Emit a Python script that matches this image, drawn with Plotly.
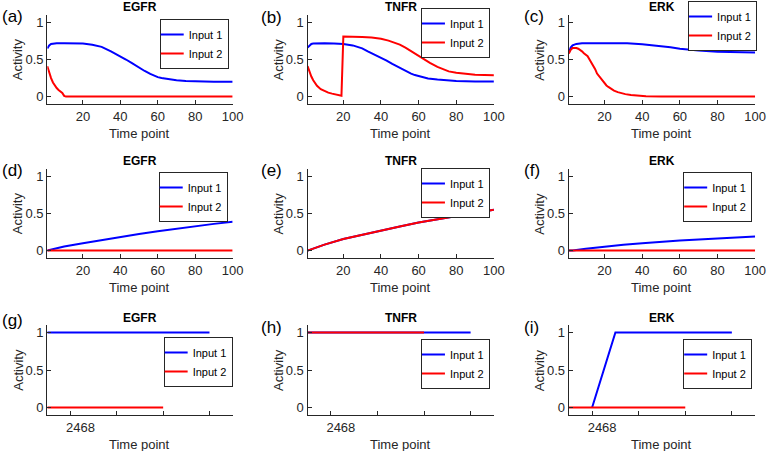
import plotly.graph_objects as go

# ---------------- data ----------------
panel_letters = ["(a)", "(b)", "(c)", "(d)", "(e)", "(f)", "(g)", "(h)", "(i)"]
panel_titles = ["EGFR", "TNFR", "ERK", "EGFR", "TNFR", "ERK", "EGFR", "TNFR", "ERK"]
series_names = ["Input 1", "Input 2"]

# (a) EGFR
a_t1 = [1, 2, 3, 4, 6, 10, 15, 20, 25, 30, 35, 40, 43, 46, 50, 53, 56, 58, 60, 62, 65, 70, 75, 80, 90, 100]
a_in1 = [0.65, 0.69, 0.71, 0.715, 0.72, 0.72, 0.72, 0.715, 0.70, 0.67, 0.61, 0.545, 0.50, 0.455,
         0.39, 0.345, 0.305, 0.28, 0.262, 0.25, 0.235, 0.22, 0.21, 0.205, 0.20, 0.20]
a_t2 = [1, 2, 3, 4, 5, 6, 7, 8, 9, 10, 11, 15, 100]
a_in2 = [0.41, 0.32, 0.25, 0.19, 0.145, 0.115, 0.09, 0.07, 0.05, 0.01, 0.0, 0.0, 0.0]

# (b) TNFR
b_t1 = [1, 2, 3, 4, 6, 10, 15, 20, 25, 30, 33, 36, 40, 43, 46, 50, 53, 56, 58, 60, 62, 65, 70, 75, 80, 90, 100]
b_in1 = [0.66, 0.69, 0.71, 0.715, 0.72, 0.72, 0.715, 0.71, 0.69, 0.65, 0.61, 0.575, 0.53, 0.485,
         0.44, 0.385, 0.345, 0.31, 0.29, 0.275, 0.26, 0.245, 0.23, 0.22, 0.21, 0.205, 0.205]
b_t2 = [1, 2, 3, 4, 6, 8, 10, 12, 14, 16, 19, 20, 25, 30, 35, 40, 44, 47, 50, 53, 56, 60, 63, 66,
        70, 73, 76, 80, 85, 90, 100]
b_in2 = [0.41, 0.33, 0.27, 0.22, 0.145, 0.10, 0.072, 0.053, 0.04, 0.027, 0.012, 0.81, 0.81, 0.805,
         0.795, 0.78, 0.755, 0.73, 0.70, 0.66, 0.61, 0.545, 0.50, 0.455, 0.40, 0.365, 0.34, 0.32,
         0.305, 0.295, 0.287]

# (c) ERK
c_t1 = [1, 2, 3, 5, 8, 15, 25, 32, 40, 45, 50, 55, 60, 65, 70, 80, 90, 100]
c_in1 = [0.59, 0.66, 0.69, 0.71, 0.72, 0.72, 0.72, 0.72, 0.705, 0.695, 0.68, 0.665, 0.645, 0.63,
         0.62, 0.605, 0.60, 0.595]
c_t2 = [1, 2, 3, 4, 5, 6, 7, 8, 9, 10, 11, 12, 13, 14, 15, 16, 17, 18, 19, 20, 21, 22, 23, 25, 27,
        29, 31, 34, 38, 42, 50, 100]
c_in2 = [0.58, 0.63, 0.655, 0.66, 0.655, 0.645, 0.63, 0.61, 0.585, 0.565, 0.545, 0.50, 0.46, 0.415,
         0.37, 0.31, 0.275, 0.24, 0.205, 0.175, 0.15, 0.13, 0.11, 0.08, 0.06, 0.045, 0.033, 0.02,
         0.01, 0.005, 0.002, 0.0]

# (d) EGFR
d_t1 = [1, 10, 20, 30, 40, 50, 60, 70, 80, 90, 100]
d_in1 = [0.0, 0.055, 0.10, 0.145, 0.19, 0.225, 0.26, 0.295, 0.33, 0.36, 0.39]
d_t2 = [1, 20, 40, 60, 80, 100]
d_in2 = [0.0, 0.0, 0.0, 0.0, 0.0, 0.0]

# (e) TNFR (both inputs coincide)
e_t1 = [1, 10, 20, 30, 40, 50, 60, 70, 80, 90, 100]
e_in1 = [0.0, 0.08, 0.155, 0.215, 0.27, 0.325, 0.38, 0.425, 0.47, 0.51, 0.55]
e_t2 = [1, 10, 20, 30, 40, 50, 60, 70, 80, 90, 100]
e_in2 = [0.0, 0.08, 0.155, 0.215, 0.27, 0.325, 0.38, 0.425, 0.47, 0.51, 0.55]

# (f) ERK
f_t1 = [1, 3, 10, 20, 30, 40, 50, 60, 70, 80, 90, 100]
f_in1 = [0.0, 0.0, 0.025, 0.055, 0.08, 0.10, 0.12, 0.136, 0.15, 0.165, 0.18, 0.19]
f_t2 = [1, 20, 40, 60, 80, 100]
f_in2 = [0.0, 0.0, 0.0, 0.0, 0.0, 0.0]

# (g) EGFR
g_t1 = [1, 2, 3, 4, 5, 6, 7, 8]
g_in1 = [1, 1, 1, 1, 1, 1, 1, 1]
g_t2 = [1, 2, 3, 4, 5, 6]
g_in2 = [0, 0, 0, 0, 0, 0]

# (h) TNFR
h_t1 = [1, 2, 3, 4, 5, 6, 7, 8]
h_in1 = [1, 1, 1, 1, 1, 1, 1, 1]
h_t2 = [1, 2, 3, 4, 5, 6]
h_in2 = [1, 1, 1, 1, 1, 1]

# (i) ERK
i_t1 = [2, 3, 4, 5, 6, 7, 8]
i_in1 = [0, 1, 1, 1, 1, 1, 1]
i_t2 = [1, 2, 3, 4, 5, 6]
i_in2 = [0, 0, 0, 0, 0, 0]

panel_data = [
    (a_t1, a_in1, a_t2, a_in2), (b_t1, b_in1, b_t2, b_in2), (c_t1, c_in1, c_t2, c_in2),
    (d_t1, d_in1, d_t2, d_in2), (e_t1, e_in1, e_t2, e_in2), (f_t1, f_in1, f_t2, f_in2),
    (g_t1, g_in1, g_t2, g_in2), (h_t1, h_in1, h_t2, h_in2), (i_t1, i_in1, i_t2, i_in2),
]

y_ticks = [0, 0.5, 1]
y_ticklabels = ["0", "0.5", "1"]
x_ticks_long = [20, 40, 60, 80, 100]
x_ticks_short = [2, 4, 6, 8]
x_ticklabels_short = ["2468", "", "", ""]

# ---------------- layout geometry (pixels) ----------------
W, H = 776, 451
cols = [(48, 236), (312, 501), (577, 766)]
rows = [(15, 104), (169, 258), (325, 415)]
legend_pos = [(232, 19), (497, 8), (768, 1),
              (231, 172), (497, 168), (763, 172),
              (236, 337), (497, 339), (763, 339)]
letter_pos = [(0, 16), (263, 17), (529, 16),
              (0, 170), (263, 170), (529, 170),
              (0, 320), (263, 327), (529, 327)]
title_y = [7, 161, 318]

FONT = "Liberation Sans, Arial, Helvetica, sans-serif"
AX_COLOR = "#262626"
colors = ["#0000ff", "#ff0000"]


def px_x(p):
    return p / W


def px_y(p):
    return 1 - p / H


fig = go.Figure()
layout = dict(
    width=W, height=H, margin=dict(l=0, r=0, t=0, b=0),
    paper_bgcolor="white", plot_bgcolor="white",
    font=dict(family=FONT, color=AX_COLOR),
)
annotations = []

for k in range(9):
    r, c = divmod(k, 3)
    idx = "" if k == 0 else str(k + 1)
    xl, xr = cols[c]
    yt, yb = rows[r]
    t1, v1, t2, v2 = panel_data[k]
    leg = "legend" + idx
    for j, (tt, vv) in enumerate([(t1, v1), (t2, v2)]):
        fig.add_trace(go.Scatter(
            x=tt, y=vv, mode="lines", name=series_names[j],
            line=dict(color=colors[j], width=2),
            xaxis="x" + idx, yaxis="y" + idx, legend=leg, showlegend=True,
        ))
    xaxis = dict(
        domain=[px_x(xl), px_x(xr)], anchor="y" + idx,
        showline=True, linecolor=AX_COLOR, linewidth=1,
        ticks="inside", ticklen=4, tickcolor=AX_COLOR,
        showgrid=False, zeroline=False,
        tickfont=dict(size=13, color=AX_COLOR, family=FONT),
    )
    if r < 2:
        xaxis.update(range=[1, 100], tickvals=x_ticks_long)
    else:
        xaxis.update(range=[1, 9], tickvals=x_ticks_short, ticktext=x_ticklabels_short,
                     ticklabelshift=10)
    yaxis = dict(
        domain=[px_y(yb), px_y(yt)], anchor="x" + idx,
        range=[-0.1, 1.1], tickvals=y_ticks, ticktext=y_ticklabels,
        showline=True, linecolor=AX_COLOR, linewidth=1.3,
        ticks="inside", ticklen=4, tickcolor=AX_COLOR,
        showgrid=False, zeroline=False,
        tickfont=dict(size=13, color=AX_COLOR, family=FONT),
    )
    layout["xaxis" + idx] = xaxis
    layout["yaxis" + idx] = yaxis

    lx, ly = legend_pos[k]
    layout[leg] = dict(
        x=px_x(lx), y=px_y(ly), xanchor="right", yanchor="top",
        xref="paper", yref="paper",
        bgcolor="white", bordercolor=AX_COLOR, borderwidth=1,
        font=dict(size=11, color="black", family=FONT),
        itemwidth=30, tracegroupgap=0, indentation=-12,
    )

    # subplot title
    annotations.append(dict(
        text="<b>" + panel_titles[k] + "</b>", x=px_x((xl + xr) / 2), y=px_y(title_y[r]),
        xref="paper", yref="paper", showarrow=False, xanchor="center", yanchor="middle",
        font=dict(size=12, color="black", family=FONT),
    ))
    # panel letter
    px_, py_ = letter_pos[k]
    annotations.append(dict(
        text=panel_letters[k], x=px_x(px_), y=px_y(py_), xref="paper", yref="paper",
        showarrow=False, xanchor="left", yanchor="middle",
        font=dict(size=17, color="black", family=FONT),
    ))
    # axis titles
    annotations.append(dict(
        text="Activity", x=px_x(xl - 30), y=px_y((yt + yb) / 2), xref="paper", yref="paper",
        showarrow=False, textangle=-90, xanchor="center", yanchor="middle",
        font=dict(size=13, color=AX_COLOR, family=FONT),
    ))
    annotations.append(dict(
        text="Time point", x=px_x((xl + xr) / 2), y=px_y(yb + 29), xref="paper", yref="paper",
        showarrow=False, xanchor="center", yanchor="middle",
        font=dict(size=13, color=AX_COLOR, family=FONT),
    ))

layout["annotations"] = annotations
fig.update_layout(**layout)
fig.write_html(
    "out.html",
    config={"displayModeBar": False},
    post_script="document.body.style.margin='0';document.body.style.overflow='hidden';",
)
